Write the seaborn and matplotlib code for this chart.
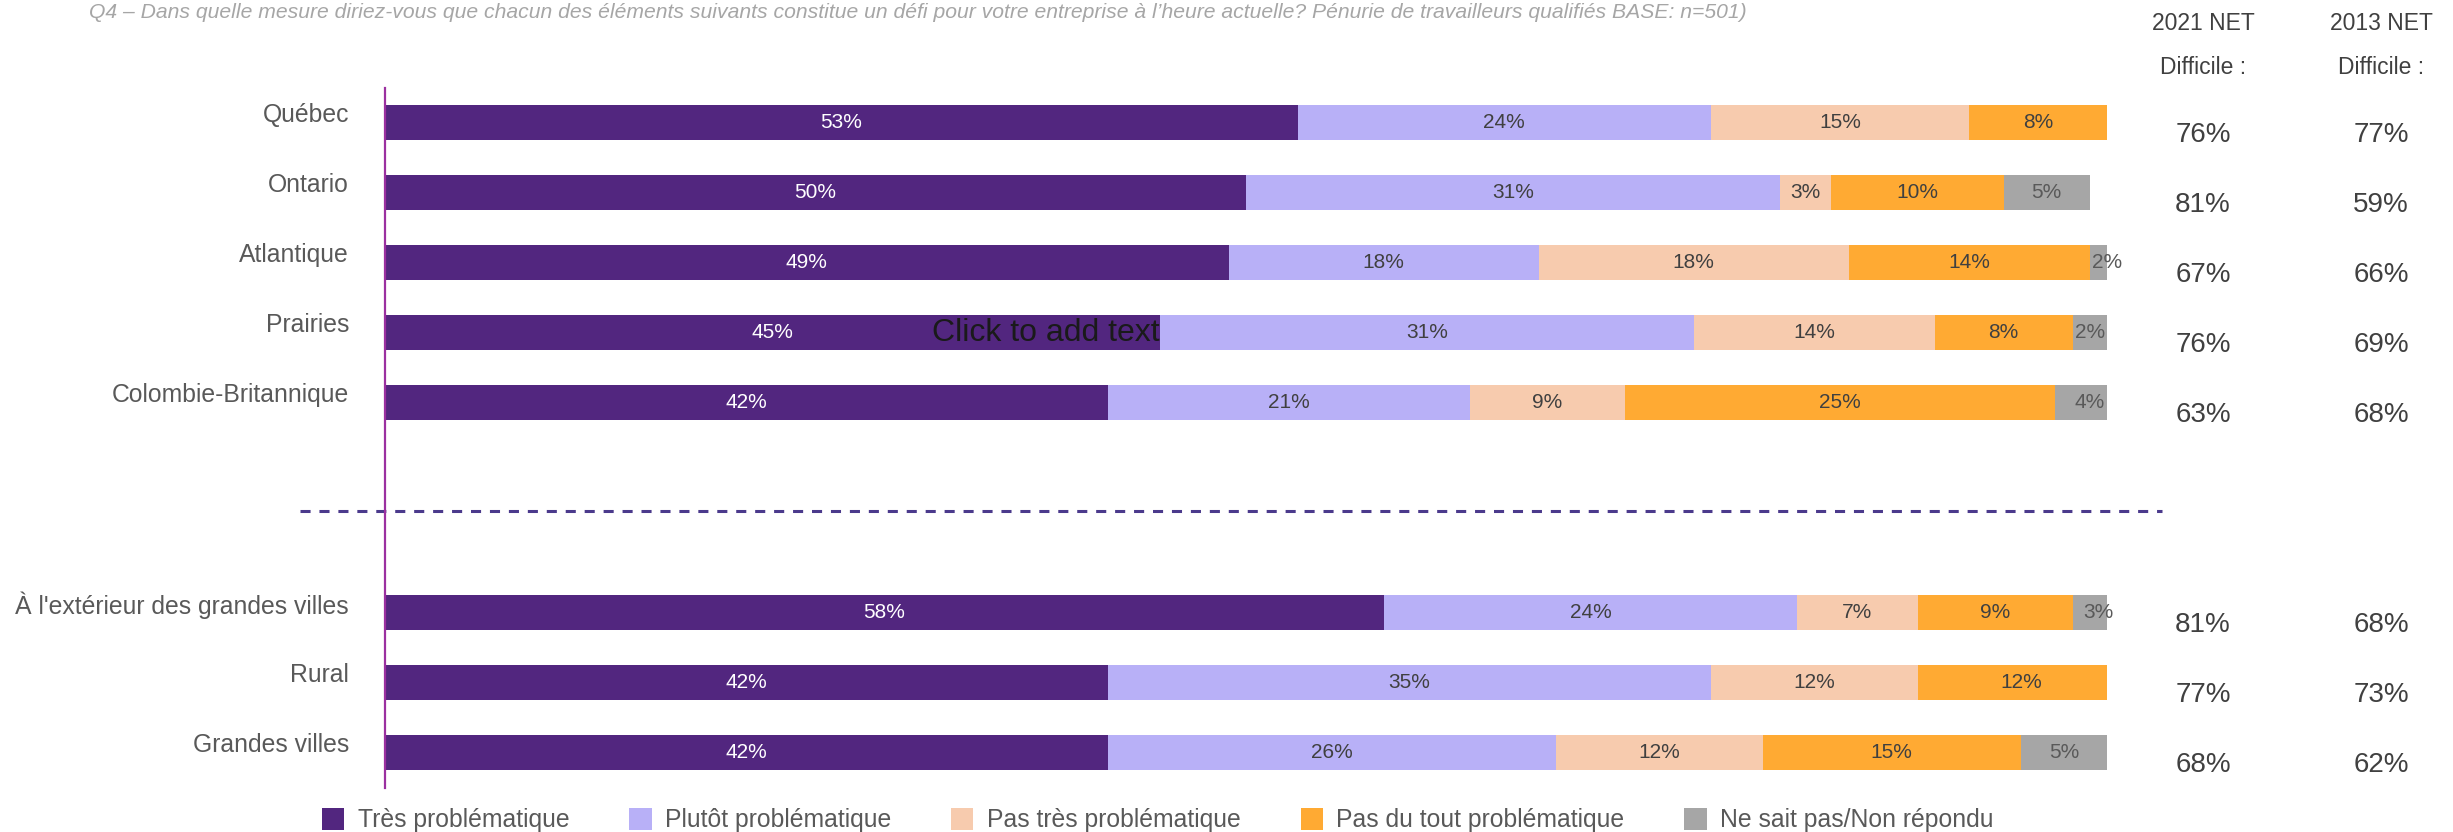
import matplotlib
matplotlib.use("Agg")
import matplotlib.pyplot as plt
import numpy as np
import pandas as pd
import seaborn as sns
from matplotlib.patches import Patch
from matplotlib.transforms import ScaledTranslation, blended_transform_factory

sns.set_theme(style="white")
plt.rcParams["font.family"] = ["Liberation Sans", "DejaVu Sans"]

# ---- data -------------------------------------------------------------
regions = ["Québec", "Ontario", "Atlantique", "Prairies", "Colombie-Britannique"]
areas = ["À l'extérieur des grandes villes", "Rural", "Grandes villes"]
categories = regions + areas

tres_problematique = [53, 50, 49, 45, 42, 58, 42, 42]
plutot_problematique = [24, 31, 18, 31, 21, 24, 35, 26]
pas_tres_problematique = [15, 3, 18, 14, 9, 7, 12, 12]
pas_du_tout_problematique = [8, 10, 14, 8, 25, 9, 12, 15]
ne_sait_pas = [0, 5, 2, 2, 4, 3, 0, 5]

net_2021 = [76, 81, 67, 76, 63, 81, 77, 68]
net_2013 = [77, 59, 66, 69, 68, 68, 73, 62]

series_names = ["Très problématique", "Plutôt problématique",
                "Pas très problématique", "Pas du tout problématique",
                "Ne sait pas/Non répondu"]
series_values = [tres_problematique, plutot_problematique,
                 pas_tres_problematique, pas_du_tout_problematique, ne_sait_pas]
colors = ["#52267F", "#B8B0F7", "#F7CBAE", "#FFAA33", "#A6A6A6"]
label_colors = ["white", "#404040", "#404040", "#404040", "#595959"]

title = ("Q4 – Dans quelle mesure diriez-vous que chacun des éléments suivants "
         "constitue un défi pour votre entreprise à l’heure actuelle? "
         "Pénurie de travailleurs qualifiés BASE: n=501)")

# ---- table ------------------------------------------------------------
df = pd.DataFrame({"categorie": categories})
for name, vals in zip(series_names, series_values):
    df[name] = vals
cum = df[series_names].cumsum(axis=1)
for i, name in enumerate(series_names):
    df[f"cum_{i}"] = cum[name]

# two empty slots separate the regions from the city-size groups
order = regions + [" ", "  "] + areas

# ---- figure -----------------------------------------------------------
W, H = 2453, 832
fig = plt.figure(figsize=(W / 100, H / 100), dpi=100)
ax = fig.add_axes([385 / W, 1 - 787.5 / H, (2107 - 385) / W, 700 / H])

# stacked bars: draw cumulative totals from the widest to the narrowest
for i in reversed(range(len(series_names))):
    sns.barplot(data=df, x=f"cum_{i}", y="categorie", order=order,
                color=colors[i], saturation=1, width=0.49, orient="h",
                edgecolor="none", linewidth=0, ax=ax)

ax.set_xlim(0, 100)
ax.set_ylim(9.5, -0.5)
ax.set_xlabel("")
ax.set_ylabel("")
ax.set_xticks([])

for s in ["top", "right", "bottom"]:
    ax.spines[s].set_visible(False)
ax.spines["left"].set_color("#9B30A0")
ax.spines["left"].set_linewidth(1.6)

ax.tick_params(axis="y", length=0, pad=26, labelsize=17.8, labelcolor="#595959")
lift = ScaledTranslation(0, 10 / 100, fig.dpi_scale_trans)
for lbl in ax.get_yticklabels():
    lbl.set_transform(lbl.get_transform() + lift)

# segment value labels
pos = {c: order.index(c) for c in categories}
for i, name in enumerate(series_names):
    for c, v, end in zip(categories, df[name], df[f"cum_{i}"]):
        if v <= 0:
            continue
        ax.text(end - v / 2, pos[c], f"{v}%", ha="center", va="center",
                fontsize=15, color=label_colors[i])

# separator between the two groups
ax.plot([-4.94, 103.2], [5.55, 5.55], color="#4B3A8C", lw=2.2,
        ls=(0, (3.3, 2.9)), clip_on=False)

# NET columns on the right
tr = blended_transform_factory(fig.transFigure, ax.transData)
x21, x13 = 2203 / W, 2381 / W
for c, a, b in zip(categories, net_2021, net_2013):
    y = pos[c] + 0.18
    ax.text(x21, y, f"{a}%", transform=tr, ha="center", va="center",
            fontsize=20, color="#404040")
    ax.text(x13, y, f"{b}%", transform=tr, ha="center", va="center",
            fontsize=20, color="#404040")

for x, yr in [(x21, "2021"), (x13, "2013")]:
    fig.text(x, 1 - 23 / H, f"{yr} NET", ha="center", va="center",
             fontsize=16.5, color="#404040")
    fig.text(x, 1 - 67 / H, "Difficile :", ha="center", va="center",
             fontsize=16.5, color="#404040")

# question text
fig.text(89 / W, 1 - 13 / H, title, ha="left", va="center", fontsize=15.2,
         style="italic", color="#A6A6A6")

# placeholder text box
fig.text(932 / W, 1 - 333 / H, "Click to add text", ha="left", va="center",
         fontsize=23, color="#1A1A1A")

# legend
handles = [Patch(facecolor=c, edgecolor="none") for c in colors]
leg = fig.legend(handles, series_names, loc="center left",
                 bbox_to_anchor=(322 / W, 1 - 820 / H), ncol=5, frameon=False,
                 fontsize=17.8, handlelength=0.9, handleheight=1.0,
                 handletextpad=0.55, columnspacing=2.42, borderpad=0,
                 borderaxespad=0)
for t in leg.get_texts():
    t.set_color("#595959")

fig.savefig("out.png", dpi=100)
